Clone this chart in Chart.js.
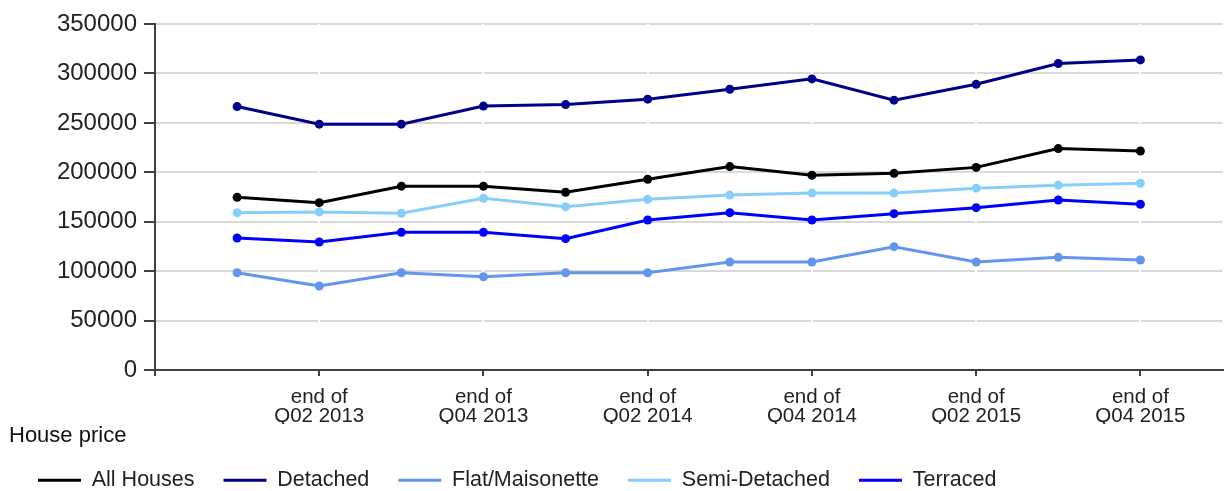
<!DOCTYPE html>
<html>
<head>
<meta charset="utf-8">
<script src="https://cdn.jsdelivr.net/npm/chart.js@4.4.1/dist/chart.umd.min.js"></script>
<style>
  html, body { margin: 0; padding: 0; background: #ffffff; }
  #wrap { width: 1227px; height: 491px; }
</style>
</head>
<body>
<div id="wrap"><canvas id="c" width="1227" height="491"></canvas></div>
<script>
const quarters = ['Q01 2013','Q02 2013','Q03 2013','Q04 2013','Q01 2014','Q02 2014','Q03 2014','Q04 2014','Q01 2015','Q02 2015','Q03 2015','Q04 2015'];
const allHouses = [174700,169300,186000,186000,179800,193000,205800,197000,199000,205000,224000,221600];
const detached  = [266500,248700,248700,267000,268500,274000,284000,294500,273000,289000,310000,313700];
const flat      = [98500,85000,98500,94400,98500,98500,109300,109300,124800,109300,114000,111300];
const semi      = [159200,160000,158600,173800,165300,172700,177000,179000,179000,184000,187000,189000];
const terraced  = [133600,129600,139300,139300,132900,151800,159200,151800,158200,164300,172000,167700];
const labeledQuarters = ['Q02 2013','Q04 2013','Q02 2014','Q04 2014','Q02 2015','Q04 2015'];
const yTicks = [0,50000,100000,150000,200000,250000,300000,350000];
const seriesNames = ['All Houses','Detached','Flat/Maisonette','Semi-Detached','Terraced'];
const seriesColors = ['#000000','#00008B','#6495ED','#87CEFA','#0000FF'];
const seriesValues = [allHouses, detached, flat, semi, terraced];

const FONT = "'Liberation Sans', Arial, sans-serif";

const datasets = seriesNames.map((name, k) => ({
  label: name,
  data: seriesValues[k].map((v, i) => ({ x: i + 1, y: v })),
  borderColor: seriesColors[k],
  backgroundColor: seriesColors[k],
  pointBackgroundColor: seriesColors[k],
  pointBorderColor: seriesColors[k],
  borderWidth: 3,
  pointRadius: 4.5,
  pointBorderWidth: 0,
  tension: 0,
  fill: false
}));

const labeledPositions = labeledQuarters.map(q => quarters.indexOf(q) + 1);

new Chart(document.getElementById('c'), {
  type: 'line',
  data: { datasets },
  options: {
    responsive: false,
    animation: false,
    devicePixelRatio: 1,
    layout: { padding: { left: 9, right: 3, top: 24, bottom: -10 } },
    plugins: {
      tooltip: { enabled: false },
      title: { display: false },
      legend: {
        display: true,
        position: 'bottom',
        align: 'start',
        title: {
          display: true,
          text: 'House price',
          position: 'start',
          color: '#111111',
          font: { family: FONT, size: 22 },
          padding: { top: 1, bottom: -11 }
        },
        labels: {
          color: '#222222',
          font: { family: FONT, size: 21.5 },
          boxWidth: 43,
          boxHeight: 3,
          padding: 29,
          generateLabels: (chart) => Chart.defaults.plugins.legend.labels.generateLabels(chart).map(l => ({ ...l, lineWidth: 0 }))
        }
      }
    },
    scales: {
      y: {
        type: 'linear',
        min: 0,
        max: 350000,
        afterBuildTicks: (s) => { s.ticks = yTicks.map(v => ({ value: v })); },
        afterFit: (s) => { s.width = 146; },
        ticks: {
          color: '#222222',
          font: { family: FONT, size: 24 },
          padding: 7,
          callback: (v) => String(v)
        },
        grid: {
          color: '#d9d9d9',
          lineWidth: 2,
          tickLength: 11,
          tickColor: '#404040',
          tickWidth: 2
        },
        border: { display: true, color: '#404040', width: 2 }
      },
      x: {
        type: 'linear',
        min: 0,
        max: quarters.length + 1,
        afterBuildTicks: (s) => { s.ticks = [0].concat(labeledPositions).map(v => ({ value: v })); },
        afterFit: (s) => { s.height = 54; },
        ticks: {
          color: '#222222',
          font: { family: FONT, size: 20.5, lineHeight: '19px' },
          padding: 12,
          maxRotation: 0,
          autoSkip: false,
          callback: (v) => v >= 1 ? ['end of', quarters[v - 1]] : ''
        },
        grid: {
          color: (ctx) => (ctx.tick && ctx.tick.value === 0) ? 'rgba(0,0,0,0)' : '#ffffff',
          lineWidth: 2,
          tickLength: 6,
          tickColor: '#404040',
          tickWidth: 2
        },
        border: { display: true, color: '#404040', width: 2 }
      }
    }
  }
});
</script>
</body>
</html>
